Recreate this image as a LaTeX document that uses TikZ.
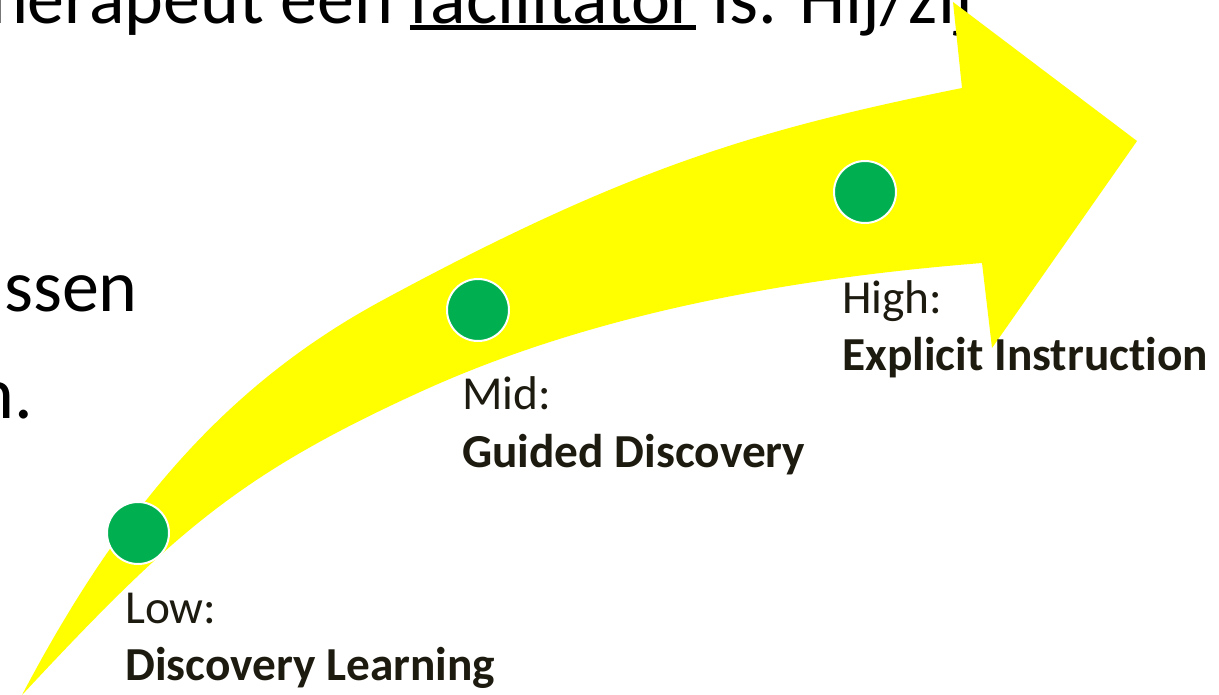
\documentclass[tikz,border=0pt]{standalone}
\usepackage{fontspec}
\setmainfont{Carlito}[Ligatures={NoCommon}]
\definecolor{arrowyellow}{RGB}{255,255,0}
\definecolor{dotgreen}{RGB}{0,176,80}
\definecolor{labeltext}{RGB}{29,27,16}
\newcommand\thickul[1]{\setbox0\hbox{#1}\rlap{\rule[-4.2pt]{\wd0}{3.6pt}}#1}
\tikzset{
  bigtext/.style={inner sep=0pt, font=\fontsize{55.5}{66}\selectfont, text=black},
  lbl/.style={inner sep=0pt, anchor=base west, font=\fontsize{35.5}{43}\selectfont, text=labeltext},
  lblbold/.style={inner sep=0pt, anchor=base west, font=\fontsize{35.5}{43}\selectfont\bfseries, text=labeltext},
  dot/.style={circle, fill=dotgreen, draw=white, line width=1.5pt, minimum size=46.5pt, inner sep=0pt},
}
\begin{document}
\begin{tikzpicture}[x=0.75pt,y=-0.75pt]
\clip (0,0) rectangle (1219,695);
\fill[white] (0,0) rectangle (1219,695);
% background slide text
\node[bigtext, anchor=base west] (top) at (-36,24) {therapeut een \thickul{facilitator} is. Hij/zij};
\node[bigtext, anchor=base west] (ssen) at (4,311) {ssen};
\node[bigtext, anchor=base east] (npt) at (33,418) {n.};
% curved arrow
\coordinate (tail) at (22,695);
\coordinate (mu) at (383,300);
\coordinate (ub) at (962,88);
\coordinate (bt) at (953,2);
\coordinate (tip) at (1137,141);
\coordinate (lbt) at (992,348);
\coordinate (lb) at (982,263);
\coordinate (ml) at (420,392);
\fill[arrowyellow]
  (tail) .. controls (120,509) and (227,384) .. (mu)
         .. controls (629,167) and (759,129) .. (ub)
  -- (bt) -- (tip) -- (lbt) -- (lb)
         .. controls (793,278) and (593,313) .. (ml)
         .. controls (238,475) and (172,534) .. (tail)
  -- cycle;
% dots
\node[dot] (low) at (138,533) {};
\node[dot] (mid) at (478,310) {};
\node[dot] (high) at (865,192) {};
% labels
\node[lbl] (lowa) at (125,623) {Low:};
\node[lblbold] (lowb) at (125,680) {Discovery Learning};
\node[lbl] (mida) at (462,409) {Mid:};
\node[lblbold] (midb) at (462,467) {Guided Discovery};
\node[lbl] (higha) at (842,313) {High:};
\node[lblbold] (highb) at (842,370) {Explicit Instruction};
\end{tikzpicture}
\end{document}
